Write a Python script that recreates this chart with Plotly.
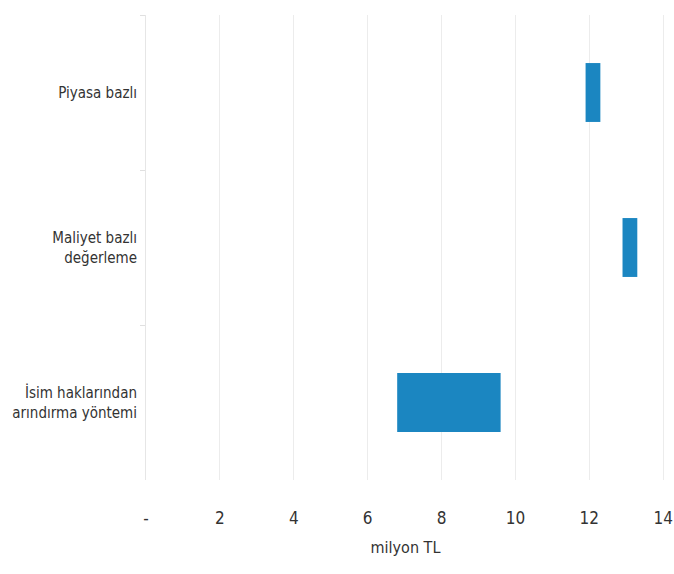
import plotly.graph_objects as go

# Value ranges per valuation method (million TL)
methods = ["Piyasa bazlı", "Maliyet bazlı<br>değerleme", "İsim haklarından<br>arındırma yöntemi"]
low_values = [11.9, 12.9, 6.8]
high_values = [12.3, 13.3, 9.6]

tick_values = [0, 2, 4, 6, 8, 10, 12, 14]
tick_labels = ["-", "2", "4", "6", "8", "10", "12", "14"]

spans = [h - l for h, l in zip(high_values, low_values)]

font_family = "DejaVu Sans Condensed, Liberation Sans Narrow, Arial Narrow, sans-serif"
text_color = "#333333"

fig = go.Figure(
    go.Bar(
        y=methods,
        x=spans,
        base=low_values,
        orientation="h",
        marker=dict(color="#1b86c1", line=dict(width=0)),
        width=0.38,
        hoverinfo="skip",
    )
)

fig.update_layout(
    width=674,
    height=574,
    margin=dict(l=146, r=9, t=15, b=94),
    plot_bgcolor="white",
    paper_bgcolor="white",
    showlegend=False,
    font=dict(family=font_family, size=16, color=text_color),
)

fig.update_xaxes(
    range=[0, 14.05],
    tickvals=tick_values,
    ticktext=tick_labels,
    showgrid=True,
    gridcolor="#ececec",
    gridwidth=1,
    zeroline=False,
    showline=False,
    ticks="",
    ticklabelstandoff=26,
    ticklabeloverflow="allow",
    automargin=False,
    tickfont=dict(size=17, color=text_color),
    title=dict(text="milyon TL", font=dict(size=16, color=text_color), standoff=14),
)

fig.update_yaxes(
    autorange="reversed",
    automargin=False,
    showgrid=False,
    showline=True,
    linecolor="#e6e6e6",
    linewidth=1,
    ticks="outside",
    tickson="boundaries",
    ticklen=5,
    tickcolor="#e0e0e0",
    tickfont=dict(size=15, color=text_color),
    ticklabelstandoff=5,
)

fig.write_html("out.html")
